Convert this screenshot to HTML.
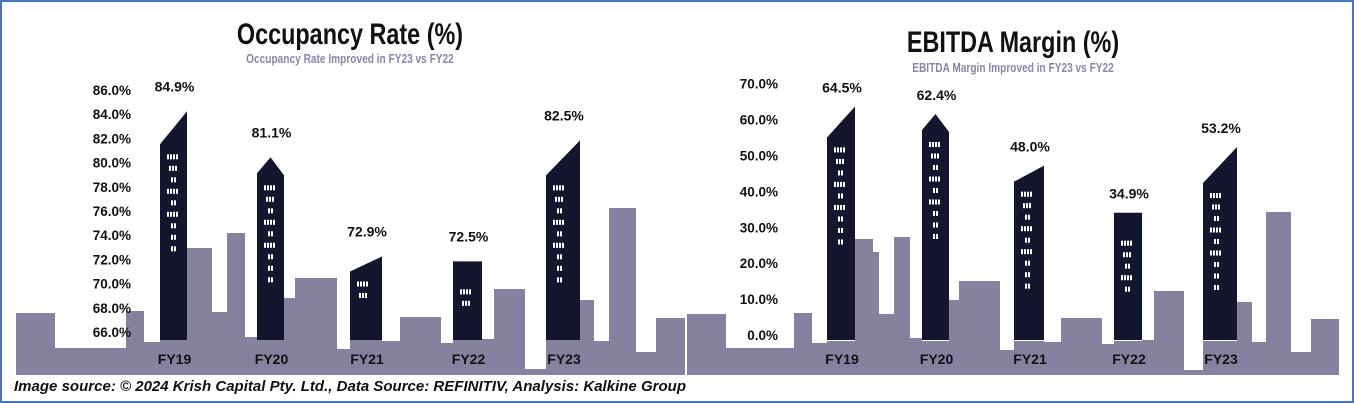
<!DOCTYPE html>
<html><head><meta charset="utf-8"><style>
html,body{margin:0;padding:0;background:#fff;}
svg{display:block;font-family:"Liberation Sans",sans-serif;}
</style></head><body>
<svg id="root" width="1354" height="403" viewBox="0 0 1354 403">
<rect x="1" y="1" width="1352" height="401" fill="#fff" stroke="#4a76c0" stroke-width="2"/>
<g id="sky"></g>
<g id="left"></g>
<g id="right"></g>
<line x1="686" y1="300" x2="686" y2="376" stroke="#fff" stroke-width="2"/>
<text x="350" y="44" text-anchor="middle" font-size="30" font-weight="bold" fill="#111" transform="translate(350,0) scale(0.78,1) translate(-350,0)">Occupancy Rate (%)</text>
<text x="350" y="63" text-anchor="middle" font-size="13" font-weight="bold" fill="#8a86a8" transform="translate(350,0) scale(0.78,1) translate(-350,0)">Occupancy Rate Improved in FY23 vs FY22</text>
<text x="1013" y="52" text-anchor="middle" font-size="30" font-weight="bold" fill="#111" transform="translate(1013,0) scale(0.78,1) translate(-1013,0)">EBITDA Margin (%)</text>
<text x="1013" y="72" text-anchor="middle" font-size="13" font-weight="bold" fill="#8a86a8" transform="translate(1013,0) scale(0.78,1) translate(-1013,0)">EBITDA Margin Improved in FY23 vs FY22</text>
<text x="14" y="391" font-size="15" font-style="italic" font-weight="bold" fill="#111" textLength="672" lengthAdjust="spacingAndGlyphs">Image source: © 2024 Krish Capital Pty. Ltd., Data Source: REFINITIV, Analysis: Kalkine Group</text>
</svg>
<script>
const categories = ["FY19","FY20","FY21","FY22","FY23"];
const occupancyValues = [84.9, 81.1, 72.9, 72.5, 82.5];
const occupancyTicks = [66,68,70,72,74,76,78,80,82,84,86];
const ebitdaValues = [64.5, 62.4, 48.0, 34.9, 53.2];
const ebitdaTicks = [0,10,20,30,40,50,60,70];
const roofTypes = ["slant","point","slant","flat","slant"];

const NS="http://www.w3.org/2000/svg";
function mk(tag, attrs, parent){const e=document.createElementNS(NS,tag);for(const k in attrs)e.setAttribute(k,attrs[k]);parent.appendChild(e);return e;}

// decorative skyline [x0,x1,top]
const skyL=[[16,55,313],[55,126,348],[126,144,311],[144,160,342],[160,187,339],[187,212,248],[212,227,312],[227,245,233],[245,257,337],[257,284,339],[284,295,298],[295,337,278],[337,350,349],[350,382,339],[382,400,341],[400,441,317],[441,453,343],[453,482,339],[482,494,339],[494,525,289],[525,546,369],[546,580,339],[580,594,300],[594,609,341],[609,636,208],[636,656,352],[656,685,318]];
const skyR=[[687,726,314],[726,794,348],[794,812,313],[812,827,343],[827,855,341],[855,873,239],[873,879,252],[879,894,314],[894,910,237],[910,922,338],[922,949,341],[949,959,300],[959,1000,281],[1000,1014,350],[1014,1044,341],[1044,1061,342],[1061,1102,318],[1102,1114,344],[1114,1142,341],[1142,1154,340],[1154,1184,291],[1184,1203,370],[1203,1237,341],[1237,1252,302],[1252,1266,342],[1266,1291,212],[1291,1311,352],[1311,1339,319]];
const sky=document.getElementById('sky');
[...skyL,...skyR].forEach(s=>{
  const r=mk('rect',{x:s[0],y:s[2],width:s[1]-s[0],height:375-s[2],fill:'#8781a0'},sky);
  
  
});

function drawChart(gid, values, ticks, yOf, xs, widths, tickX, offset, slantD, labelGap, fmt){
  const g=document.getElementById(gid);
  ticks.forEach(t=>{
    const tx=mk('text',{x:tickX,y:yOf(t)+5,'text-anchor':'end','font-size':13.5,'font-weight':'bold',fill:'#111'},g);
    
    
    tx.textContent=fmt(t);
  });
  values.forEach((v,i)=>{
    const x0=xs[i], x1=xs[i]+widths[i], peak=yOf(v)+offset, base=340;
    let pts;
    const type=roofTypes[i];
    if(type==='slant') pts=[[x0,base],[x0,peak+slantD[i]],[x1,peak],[x1,base]];
    else if(type==='point') pts=[[x0,base],[x0,peak+16],[(x0+x1)/2,peak],[x1,peak+18],[x1,base]];
    else pts=[[x0,base],[x0,peak],[x1,peak],[x1,base]];
    const p=mk('polygon',{points:pts.map(q=>q.join(',')).join(' '),fill:'#14162e'},g);
    
    
    // windows
    const wtop=(type==='slant'?peak+slantD[i]:peak+18)+10;
    const rows=Math.max(2,Math.min(9,Math.floor((base-wtop-30)/12)));
    for(let r=0;r<rows;r++){
      const n=[4,3,2,4,2,4,2,2,2][r%9];
      for(let k=0;k<n;k++){
        const w=mk('rect',{x:x0+7+(4-n)*2+k*3,y:wtop+r*11.5,width:2,height:5,fill:'#fff'},g);
        
        
      }
    }
    const lb=mk('text',{x:(x0+x1)/2+1,y:peak-labelGap,'text-anchor':'middle','font-size':14,'font-weight':'bold',fill:'#111'},g);
    
    
    lb.textContent=v.toFixed(1)+'%';
    const cl=mk('text',{x:(x0+x1)/2+1,y:364,'text-anchor':'middle','font-size':14,'font-weight':'bold',fill:'#111'},g);
    
    
    cl.textContent=categories[i];
  });
}
drawChart('left', occupancyValues, occupancyTicks, v=>332-(v-66)*12.1,
  [160,257,350,453,546],[27,27,32,29,34],131,8,[33,16,15,0,35],20,t=>t.toFixed(1)+'%');
drawChart('right', ebitdaValues, ebitdaTicks, v=>335-v*3.59,
  [827,922,1014,1114,1203],[28,27,30,28,34],778,3,[31,16,16,0,36],14,t=>t.toFixed(1)+'%');
</script>
</body></html>
